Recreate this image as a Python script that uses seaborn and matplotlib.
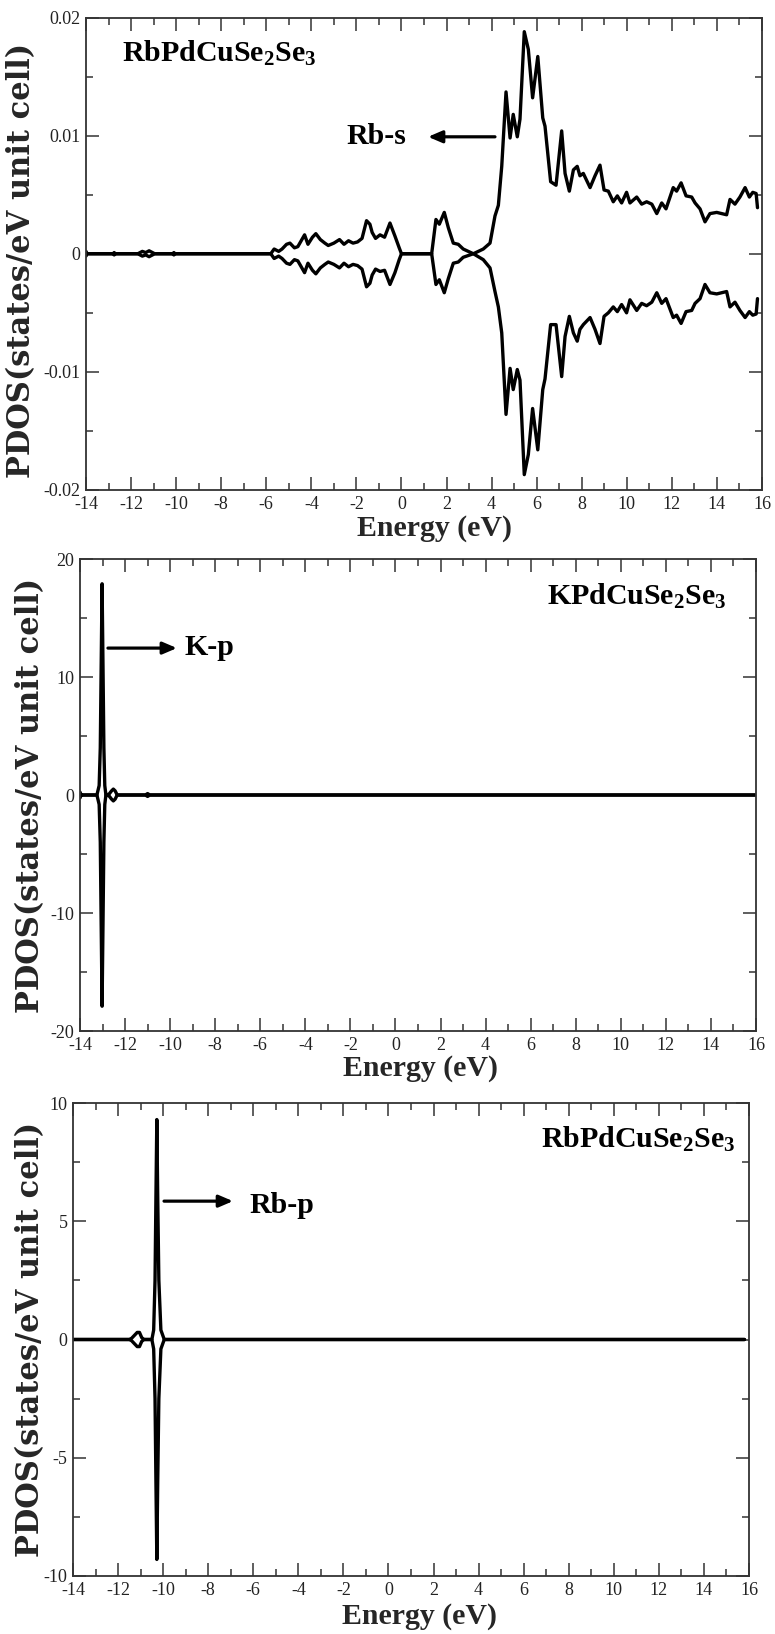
import matplotlib
matplotlib.use("Agg")
import matplotlib.pyplot as plt
import seaborn as sns
import pandas as pd

# ---------------- data ----------------
# Panel 1: Rb-s PDOS (RbPdCuSe2Se3)
rbs_energy = [-14.0, -13.95, -12.8, -12.75, -12.7, -11.7, -11.5, -11.35, -11.2, -11.05, -10.95,
              -10.15, -10.1, -10.05, -5.8, -5.65, -5.45, -5.3, -5.1, -4.95, -4.75, -4.6, -4.3,
              -4.15, -3.95, -3.8, -3.6, -3.4, -3.25, -3.0, -2.75, -2.55, -2.35, -2.15, -1.95,
              -1.75, -1.55, -1.4, -1.3, -1.15, -0.95, -0.75, -0.51, -0.29, -0.1, 0.0, 1.34,
              1.53, 1.68, 1.90, 2.08, 2.30, 2.52, 2.74, 3.19, 3.63, 3.93, 4.15, 4.30, 4.45,
              4.64, 4.82, 4.96, 5.14, 5.26, 5.45, 5.63, 5.82, 6.05, 6.27, 6.37, 6.62, 6.86,
              7.11, 7.26, 7.45, 7.63, 7.80, 7.92, 8.07, 8.37, 8.59, 8.81, 8.99, 9.18, 9.40,
              9.58, 9.77, 9.99, 10.14, 10.44, 10.66, 10.88, 11.11, 11.33, 11.55, 11.74, 12.06,
              12.21, 12.41, 12.63, 12.88, 13.03, 13.25, 13.47, 13.69, 13.99, 14.21, 14.43,
              14.58, 14.80, 15.02, 15.25, 15.44, 15.59, 15.74, 15.80]
rbs_up = [0.0002, 0.0, 0.0, 0.0001, 0.0, 0.0, 0.0002, 0.0001, 0.00025, 0.0001, 0.0,
          0.0, 0.0001, 0.0, 0.0, 0.0004, 0.0002, 0.0004, 0.0008, 0.0009, 0.0005, 0.0006, 0.0016,
          0.0008, 0.0014, 0.0017, 0.0012, 0.0009, 0.0007, 0.0009, 0.0012, 0.0008, 0.0011, 0.0009, 0.0010,
          0.0013, 0.0028, 0.0025, 0.0018, 0.0013, 0.0016, 0.0014, 0.0026, 0.0015, 0.0005, 0.0, 0.0,
          0.0029, 0.0025, 0.0035, 0.0022, 0.0009, 0.0008, 0.0004, 0.0, 0.0004, 0.0009, 0.0032, 0.0041, 0.0074,
          0.0137, 0.0098, 0.0118, 0.0099, 0.0114, 0.0188, 0.0173, 0.0132, 0.0167, 0.0115, 0.0108, 0.0061, 0.0058,
          0.0104, 0.0068, 0.0053, 0.0071, 0.0074, 0.0066, 0.0068, 0.0056, 0.0066, 0.0075, 0.0054, 0.0053, 0.0044,
          0.0049, 0.0043, 0.0052, 0.0043, 0.0048, 0.0042, 0.0044, 0.0042, 0.0034, 0.0043, 0.0038, 0.0056,
          0.0053, 0.0060, 0.0049, 0.0048, 0.0043, 0.0038, 0.0027, 0.0034, 0.0035, 0.0034, 0.0033,
          0.0046, 0.0042, 0.0048, 0.0056, 0.0048, 0.0052, 0.0051, 0.0039]
rbs_dn = [-0.0002, 0.0, 0.0, -0.0001, 0.0, 0.0, -0.0002, -0.0001, -0.00025, -0.0001, 0.0,
          0.0, -0.0001, 0.0, 0.0, -0.0004, -0.0002, -0.0004, -0.0008, -0.0009, -0.0005, -0.0006, -0.0016,
          -0.0008, -0.0014, -0.0017, -0.0012, -0.0009, -0.0007, -0.0009, -0.0012, -0.0008, -0.0011, -0.0009, -0.0010,
          -0.0013, -0.0028, -0.0025, -0.0018, -0.0013, -0.0015, -0.0014, -0.0026, -0.0016, -0.0005, 0.0, 0.0,
          -0.0026, -0.0022, -0.0033, -0.0021, -0.0008, -0.0007, -0.0003, 0.0, -0.0005, -0.0012, -0.0032, -0.0045, -0.0067,
          -0.0136, -0.0097, -0.0115, -0.0098, -0.0107, -0.0187, -0.0170, -0.0131, -0.0166, -0.0115, -0.0106, -0.0060, -0.0060,
          -0.0104, -0.0070, -0.0053, -0.0067, -0.0074, -0.0064, -0.0060, -0.0054, -0.0064, -0.0076, -0.0053, -0.0050, -0.0045,
          -0.0049, -0.0043, -0.0050, -0.0039, -0.0048, -0.0042, -0.0044, -0.0041, -0.0033, -0.0042, -0.0038, -0.0054,
          -0.0052, -0.0059, -0.0049, -0.0048, -0.0042, -0.0038, -0.0026, -0.0033, -0.0034, -0.0033, -0.0032,
          -0.0045, -0.0041, -0.0048, -0.0054, -0.0049, -0.0052, -0.0051, -0.0038]

# Panel 2: K-p PDOS (KPdCuSe2Se3)
kp_energy = [-14.0, -13.95, -13.9, -13.25, -13.15, -13.1, -13.06, -13.02, -12.98, -12.94, -12.9,
             -12.85, -12.8, -12.7, -12.6, -12.52, -12.44, -12.35, -11.1, -11.0, -10.9, 16.0]
kp_up = [0.25, 0.0, 0.0, 0.0, 0.8, 4.0, 11.0, 17.9, 11.0, 4.0, 0.8,
         0.0, 0.0, 0.1, 0.35, 0.5, 0.35, 0.0, 0.0, 0.12, 0.0, 0.0]
kp_dn = [-0.25, 0.0, 0.0, 0.0, -0.8, -4.0, -11.0, -17.9, -11.0, -4.0, -0.8,
         0.0, 0.0, -0.1, -0.35, -0.5, -0.35, 0.0, 0.0, -0.12, 0.0, 0.0]

# Panel 3: Rb-p PDOS (RbPdCuSe2Se3)
rbp_energy = [-14.0, -11.5, -11.4, -11.3, -11.15, -11.05, -10.95, -10.85, -10.5, -10.42, -10.36,
              -10.32, -10.28, -10.24, -10.19, -10.1, -9.95, 15.8]
rbp_up = [0.0, 0.0, 0.05, 0.15, 0.3, 0.3, 0.08, 0.0, 0.0, 0.4, 2.5,
          6.0, 9.3, 6.0, 2.5, 0.4, 0.0, 0.0]
rbp_dn = [0.0, 0.0, -0.05, -0.15, -0.3, -0.3, -0.08, 0.0, 0.0, -0.4, -2.5,
          -6.0, -9.3, -6.0, -2.5, -0.4, 0.0, 0.0]

x_ticks = [-14, -12, -10, -8, -6, -4, -2, 0, 2, 4, 6, 8, 10, 12, 14, 16]
x_tick_labels = ["-14", "-12", "-10", "-8", "-6", "-4", "-2", "0", "2", "4", "6", "8", "10", "12", "14", "16"]
y1_ticks = [-0.02, -0.01, 0.0, 0.01, 0.02]
y1_tick_labels = ["-0.02", "-0.01", "0", "0.01", "0.02"]
y2_ticks = [-20, -10, 0, 10, 20]
y2_tick_labels = ["-20", "-10", "0", "10", "20"]
y3_ticks = [-10, -5, 0, 5, 10]
y3_tick_labels = ["-10", "-5", "0", "5", "10"]

compound_rb = "RbPdCuSe$_2$Se$_3$"
compound_k = "KPdCuSe$_2$Se$_3$"
xlabel_text = "Energy (eV)"
ylabel_text = "PDOS(states/eV unit cell)"

# ---------------- style ----------------
sns.set_theme(style="white")
plt.rcParams["font.family"] = ["Liberation Serif", "DejaVu Serif"]
plt.rcParams["mathtext.fontset"] = "custom"
plt.rcParams["mathtext.rm"] = "Liberation Serif:bold"
plt.rcParams["mathtext.it"] = "Liberation Serif:bold:italic"
plt.rcParams["mathtext.bf"] = "Liberation Serif:bold"
plt.rcParams["mathtext.default"] = "rm"
plt.rcParams["lines.solid_joinstyle"] = "round"

W, H = 775, 1634
fig = plt.figure(figsize=(W / 100, H / 100), dpi=100)

def axes_rect(left, right, top, bottom):
    return [left / W, 1 - bottom / H, (right - left) / W, (bottom - top) / H]

ax1 = fig.add_axes(axes_rect(86, 762, 17.5, 490))
ax2 = fig.add_axes(axes_rect(80, 756, 559, 1031))
ax3 = fig.add_axes(axes_rect(73, 749, 1103, 1576))

LW = 2.4

def draw(ax, energy, up, dn, yticks, ylabels, yminor, ylim):
    df_up = pd.DataFrame({"E": energy, "PDOS": up})
    df_dn = pd.DataFrame({"E": energy, "PDOS": dn})
    sns.lineplot(data=df_up, x="E", y="PDOS", ax=ax, color="black", lw=LW,
                 estimator=None, sort=False)
    sns.lineplot(data=df_dn, x="E", y="PDOS", ax=ax, color="black", lw=LW,
                 estimator=None, sort=False)
    for ln in ax.get_lines():
        ln.set_solid_joinstyle("round")
    ax.set_xlim(-14, 16)
    ax.set_ylim(*ylim)
    ax.set_xticks(x_ticks)
    ax.set_xticklabels(x_tick_labels)
    ax.set_xticks([v + 1 for v in x_ticks[:-1]], minor=True)
    ax.set_yticks(yticks)
    ax.set_yticklabels(ylabels)
    ax.set_yticks(yminor, minor=True)
    ax.tick_params(which="both", direction="in", top=True, right=True,
                   bottom=True, left=True, width=1.1, color="#333333")
    ax.tick_params(which="major", length=9.5)
    ax.tick_params(which="minor", length=5)
    ax.tick_params(axis="x", which="major", labelsize=13, pad=4, labelcolor="#222222")
    ax.tick_params(axis="y", which="major", labelsize=13, pad=4, labelcolor="#222222")
    for s in ax.spines.values():
        s.set_color("#333333")
        s.set_linewidth(1.3)
    ax.set_xlabel(xlabel_text, fontsize=21.5, fontweight="bold", va="top")
    ax.set_ylabel(ylabel_text, fontsize=22, fontweight="bold",
                  family=["DejaVu Serif"])
    ax.set_facecolor("white")

draw(ax1, rbs_energy, rbs_up, rbs_dn, y1_ticks, y1_tick_labels,
     [-0.015, -0.005, 0.005, 0.015], (-0.02, 0.02))
draw(ax2, kp_energy, kp_up, kp_dn, y2_ticks, y2_tick_labels,
     [-15, -5, 5, 15], (-20, 20))
draw(ax3, rbp_energy, rbp_up, rbp_dn, y3_ticks, y3_tick_labels,
     [-7.5, -2.5, 2.5, 7.5], (-10, 10))

ax1.xaxis.set_label_coords(0.516, -0.052)
ax2.xaxis.set_label_coords(0.503, -0.050)
ax3.xaxis.set_label_coords(0.513, -0.058)
ax1.yaxis.set_label_coords(-0.072, 0.485)
ax2.yaxis.set_label_coords(-0.050, 0.5)
ax3.yaxis.set_label_coords(-0.040, 0.5)

TXT = dict(fontsize=21.5, fontweight="bold", color="black", va="center")
ARW = dict(arrowstyle="-|>,head_length=0.7,head_width=0.3", lw=2.3, color="black",
           shrinkA=0, shrinkB=0)

# panel 1 annotations
ax1.text(-12.4, 0.0170, compound_rb, ha="left", **TXT)
ax1.text(-2.46, 0.0099, "Rb-s", ha="left", **TXT)
ax1.annotate("", xy=(1.18, 0.0099), xytext=(4.15, 0.0099), arrowprops=ARW)

# panel 2 annotations
ax2.text(10.69, 16.8, compound_k, ha="center", **TXT)
ax2.text(-9.38, 12.5, "K-p", ha="left", **TXT)
ax2.annotate("", xy=(-9.7, 12.45), xytext=(-12.76, 12.45), arrowprops=ARW)

# panel 3 annotations
ax3.text(11.1, 8.47, compound_rb, ha="center", **TXT)
ax3.text(-6.19, 5.68, "Rb-p", ha="left", **TXT)
ax3.annotate("", xy=(-6.9, 5.85), xytext=(-9.96, 5.85), arrowprops=ARW)

fig.savefig("out.png", dpi=100, facecolor="white")
